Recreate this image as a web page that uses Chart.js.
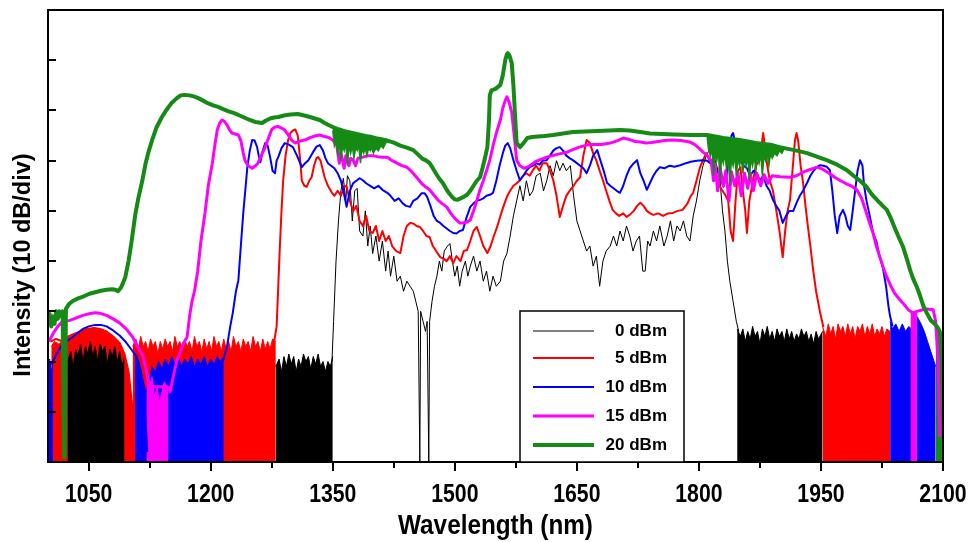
<!DOCTYPE html>
<html>
<head>
<meta charset="utf-8">
<script src="https://cdn.jsdelivr.net/npm/chart.js@4.4.0/dist/chart.umd.min.js"></script>
<style>
  html, body { margin: 0; padding: 0; background: #ffffff; }
  canvas { display: block; }
</style>
</head>
<body>
<canvas id="c" width="974" height="542"></canvas>
<script>
// ---------------- DATA (wavelength nm, relative intensity dB) ----------------
const seriesLabels = ['0 dBm', '5 dBm', '10 dBm', '15 dBm', '20 dBm'];
const xTickValues = [1050, 1200, 1350, 1500, 1650, 1800, 1950, 2100];
const xTickLabels = ['1050', '1200', '1350', '1500', '1650', '1800', '1950', '2100'];
const xMinorTicks = [1125, 1275, 1425, 1575, 1725, 1875, 2025];
const yTickValues = [-80, -70, -60, -50, -40, -30, -20, -10];
const xTitle = 'Wavelength (nm)';
const yTitle = 'Intensity (10 dB/div)';

// 0 dBm main trace
const trace0 = [[1349,-70],[1351,-62],[1354,-50],[1357,-42],[1360,-36],[1363,-33.5],[1366,-38],[1368,-33],[1371,-34],[1374,-42],[1377,-36],[1380,-35.5],[1383,-44],[1387,-45],[1390,-40],[1393,-47],[1396,-43],[1399,-48.5],[1403,-45],[1407,-50],[1411,-46],[1415,-52],[1418,-48],[1421,-53],[1425,-49],[1429,-54],[1433,-53],[1437,-56],[1441,-54],[1445,-55],[1449,-56],[1452,-58],[1455,-60],[1457,-90],[1458,-60],[1461,-62],[1464,-64],[1466,-62],[1468,-90],[1469,-62],[1472,-58],[1475,-55],[1478,-53],[1481,-50],[1484,-52],[1487,-48],[1491,-47],[1494,-46.5],[1497,-50],[1500,-53],[1503,-51],[1506,-55],[1509,-52],[1513,-50],[1516,-53],[1519,-51],[1523,-49],[1527,-52],[1531,-50],[1535,-54],[1539,-52],[1543,-56],[1547,-53],[1551,-55],[1556,-54],[1560,-50],[1564,-48.5],[1568,-45],[1572,-41],[1576,-38],[1580,-35],[1584,-38],[1588,-34],[1592,-37],[1596,-36],[1600,-33],[1605,-32.5],[1609,-36],[1613,-34],[1617,-31],[1621,-33],[1625,-30],[1629,-32],[1633,-30.5],[1637,-32],[1642,-31],[1646,-37],[1650,-42],[1654,-44],[1658,-46],[1662,-48],[1666,-47],[1670,-51],[1674,-49],[1678,-55],[1682,-50],[1686,-48],[1691,-47],[1695,-45],[1699,-47],[1703,-44],[1707,-46],[1711,-43],[1715,-45],[1719,-48],[1723,-46],[1727,-45],[1731,-52],[1734,-52],[1737,-46],[1740,-47],[1744,-44],[1748,-46],[1752,-43],[1757,-47],[1761,-45],[1765,-42],[1769,-46],[1773,-43],[1777,-44],[1781,-42],[1785,-45],[1789,-46],[1793,-41],[1797,-38],[1801,-34],[1805,-31],[1809,-29],[1814,-27.5],[1818,-29],[1822,-31],[1826,-34],[1829,-40],[1832,-44],[1835,-50],[1838,-54],[1842,-58],[1846,-62],[1849,-64]];

// 5 dBm main trace
const trace5 = [[1003,-66],[1010,-65.5],[1018,-66],[1025,-65],[1032,-64.5],[1040,-64],[1048,-63.5],[1056,-63.3],[1064,-63.5],[1072,-64],[1080,-65],[1088,-66.3],[1094,-68.5],[1099,-72],[1103,-78],[1106,-86],[1107,null],[1278,-66],[1281,-63],[1283,-55],[1285,-47],[1287,-40],[1289,-34],[1292,-29],[1295,-26],[1298,-24.5],[1301,-24],[1304,-23.8],[1307,-25],[1310,-30],[1312,-34],[1315,-35],[1318,-35.2],[1321,-34],[1324,-33.3],[1327,-31],[1330,-29.5],[1332,-29.3],[1335,-30],[1338,-32],[1340,-33.3],[1344,-35],[1349,-36.4],[1352,-37],[1356,-36],[1360,-37],[1364,-35],[1367,-35.2],[1371,-38],[1375,-40],[1379,-39],[1383,-42],[1387,-43],[1391,-41],[1395,-44],[1399,-44.4],[1403,-43],[1407,-46],[1411,-44],[1415,-46],[1419,-45],[1423,-47],[1428,-48],[1433,-48.4],[1437,-45],[1441,-43],[1445,-42.4],[1449,-42.5],[1453,-43],[1457,-43.2],[1461,-44],[1465,-45],[1469,-45.2],[1473,-47],[1477,-48],[1482,-49.2],[1486,-49.5],[1490,-50],[1494,-49],[1498,-50.4],[1502,-49],[1507,-50],[1511,-48],[1515,-47.8],[1519,-46],[1523,-44],[1527,-43.2],[1531,-45],[1535,-47],[1540,-48.4],[1544,-47],[1548,-45],[1552,-43.2],[1556,-41],[1560,-39],[1564,-37.2],[1568,-36],[1572,-35],[1576,-34.5],[1580,-33.9],[1584,-33],[1588,-32.5],[1592,-33],[1596,-31.9],[1600,-31],[1604,-32],[1608,-30.5],[1613,-30.5],[1617,-32],[1621,-33.9],[1625,-37],[1629,-41.2],[1633,-39],[1637,-37],[1642,-35.8],[1646,-35],[1650,-34],[1654,-33.3],[1658,-29],[1662,-25.9],[1666,-26.5],[1670,-28.5],[1674,-30],[1678,-32],[1682,-33.9],[1686,-36],[1690,-38],[1694,-39.8],[1698,-40.5],[1702,-41],[1707,-40.5],[1711,-41.2],[1715,-40.8],[1720,-40],[1724,-39],[1728,-38.4],[1732,-39],[1736,-40],[1740,-40.5],[1744,-40.8],[1750,-40.5],[1756,-41],[1762,-40.5],[1768,-40.4],[1774,-40],[1780,-39.8],[1786,-38.5],[1790,-37],[1793,-36.4],[1797,-34],[1801,-31.5],[1805,-29.9],[1809,-28.5],[1813,-30],[1817,-31.3],[1821,-33],[1825,-35],[1829,-36],[1833,-37],[1836,-38],[1839,-44],[1842,-46],[1845,-38],[1848,-32],[1851,-31.3],[1854,-36],[1857,-40],[1859,-44.4],[1862,-38],[1866,-34.4],[1870,-31],[1874,-30],[1877,-27],[1879,-24.5],[1881,-27],[1884,-31],[1887,-33.9],[1891,-36],[1895,-39.8],[1899,-44],[1903,-49.2],[1906,-44],[1909,-40],[1912,-37.8],[1915,-32],[1918,-26],[1920,-24.5],[1922,-26],[1925,-31],[1928,-34.4],[1931,-39],[1934,-43.2],[1937,-47],[1940,-51.2],[1944,-56],[1949,-60.3],[1953,-63.1]];

// 10 dBm main trace
const trace10 = [[1001,-71],[1006,-70],[1012,-68],[1018,-66.5],[1027,-65.5],[1035,-64.5],[1043,-63.5],[1050,-63],[1058,-62.7],[1065,-62.7],[1072,-63],[1080,-63.8],[1088,-64.8],[1095,-66],[1102,-67.5],[1109,-69],[1114,-72],[1117,-75.7],[1120,-82],[1122,-88],[1123,null],[1215,-70],[1220,-67],[1224,-63],[1227,-60.4],[1231,-56],[1234,-53.8],[1237,-47],[1240,-40.4],[1243,-35],[1245,-31.3],[1248,-28],[1251,-25.9],[1254,-26],[1257,-27.3],[1259,-29],[1261,-30.3],[1264,-28],[1267,-26.5],[1270,-27],[1273,-29.3],[1276,-32],[1279,-32.5],[1281,-30],[1283,-29.3],[1287,-27.5],[1291,-26.5],[1296,-26.8],[1301,-27.3],[1306,-29],[1312,-31.3],[1316,-30.5],[1320,-29.9],[1325,-28.5],[1330,-27.2],[1334,-26.9],[1338,-28],[1341,-29.5],[1344,-30.5],[1348,-31],[1352,-31.5],[1356,-32.5],[1360,-34],[1363,-36],[1367,-39.2],[1371,-36],[1375,-34.5],[1379,-34],[1383,-33.5],[1387,-33.9],[1391,-34.5],[1396,-35],[1401,-35.5],[1406,-35],[1411,-35.8],[1417,-36.4],[1421,-37],[1426,-38],[1431,-37.5],[1436,-38.5],[1440,-39],[1445,-39.2],[1449,-38],[1454,-37.5],[1459,-36.5],[1463,-36.5],[1466,-37.2],[1470,-39],[1474,-41],[1478,-42],[1482,-42.4],[1486,-43],[1490,-43.5],[1494,-44],[1498,-44.4],[1502,-44.5],[1506,-44],[1510,-43.8],[1514,-41.5],[1519,-39.2],[1523,-38.5],[1527,-38],[1531,-37.8],[1535,-37.5],[1539,-37],[1543,-36.8],[1547,-36.4],[1551,-34],[1555,-31],[1559,-28.5],[1562,-27],[1565,-26.5],[1568,-27.5],[1572,-29.9],[1576,-32],[1580,-33.9],[1584,-33],[1588,-32],[1592,-31.3],[1596,-31],[1600,-30.5],[1604,-30.8],[1608,-30],[1613,-29.9],[1617,-29],[1621,-28],[1625,-27.5],[1629,-27.3],[1633,-28],[1637,-29],[1641,-29.5],[1645,-29.9],[1650,-30.5],[1654,-31],[1658,-31.5],[1662,-32.5],[1666,-31],[1670,-29],[1675,-27.9],[1679,-30],[1683,-32],[1687,-34.4],[1691,-35],[1695,-35.5],[1699,-36],[1703,-36.4],[1707,-35],[1711,-33],[1715,-31.5],[1720,-30.5],[1724,-29.9],[1728,-32.5],[1732,-34],[1736,-35.8],[1740,-34.4],[1744,-33],[1748,-32],[1752,-31.3],[1758,-31.5],[1764,-31],[1770,-31.2],[1777,-30.9],[1784,-30.5],[1790,-30.2],[1797,-30],[1805,-29.9],[1810,-30],[1814,-30.5],[1817,-31.3],[1822,-32],[1826,-33],[1830,-35.2],[1834,-33],[1837,-29],[1840,-25],[1842,-24.5],[1844,-26],[1847,-28],[1851,-30],[1855,-31],[1859,-31.5],[1863,-33],[1867,-32],[1871,-32.5],[1875,-34],[1879,-33],[1883,-35],[1887,-36],[1891,-37.8],[1895,-39],[1899,-40],[1903,-42.4],[1907,-41],[1911,-40],[1916,-40],[1920,-38.4],[1924,-37],[1928,-36],[1933,-34.4],[1937,-33],[1941,-32],[1945,-31.3],[1949,-30.9],[1953,-31],[1957,-31.2],[1961,-31.9],[1964,-36],[1967,-41],[1970,-44.4],[1973,-41],[1977,-39.8],[1980,-41],[1983,-43],[1986,-43.8],[1989,-40],[1992,-36],[1995,-32],[1998,-29.9],[2001,-31],[2003,-35],[2006,-38],[2010,-41],[2014,-44.4],[2018,-46],[2022,-49],[2026,-51.2],[2030,-55],[2033,-59],[2035,-61],[2038,-63]];

// 15 dBm main trace
const trace15 = [[1001,-66],[1006,-64.5],[1012,-63],[1018,-62],[1027,-61.8],[1035,-61.3],[1043,-60.8],[1050,-60.5],[1058,-60.3],[1064,-60.4],[1072,-60.8],[1080,-61.5],[1088,-62.3],[1096,-63.5],[1104,-65.1],[1110,-67],[1117,-69],[1121,-72],[1125,-75],[1147,-75],[1150,-76],[1154,-73],[1158,-70],[1162,-68.3],[1166,-66.5],[1171,-65.1],[1174,-61],[1177,-58],[1180,-56],[1184,-52],[1188,-46],[1193,-40.4],[1197,-35],[1202,-30.5],[1205,-27],[1208,-23.9],[1211,-22.5],[1214,-21.9],[1217,-22.2],[1220,-22.9],[1223,-23.8],[1226,-24.5],[1230,-24.7],[1234,-24.9],[1237,-26],[1240,-28.5],[1242,-29.9],[1246,-31],[1251,-31.5],[1255,-31],[1258,-30.5],[1262,-29],[1267,-27.3],[1271,-25.5],[1275,-23.8],[1279,-23.3],[1283,-23.2],[1287,-23.5],[1291,-23.9],[1295,-24.8],[1300,-26],[1304,-26.5],[1308,-26.2],[1312,-26],[1316,-25.9],[1322,-25.4],[1328,-25.1],[1334,-24.9],[1340,-25.2],[1345,-25.4],[1350,-25.9],[1355,-27],[1358,-30.5],[1360,-28.5],[1364,-31.5],[1366,-29],[1370,-31],[1372,-29.5],[1375,-29.9],[1378,-31],[1381,-29.5],[1387,-29.3],[1393,-29],[1399,-29],[1405,-29.2],[1411,-29.3],[1417,-29.3],[1423,-30],[1429,-30.5],[1435,-31],[1441,-31.3],[1447,-32.2],[1453,-33.3],[1459,-34.5],[1464,-35.2],[1469,-35.8],[1474,-36.8],[1479,-37.8],[1484,-38.5],[1490,-39.2],[1495,-40.5],[1500,-41.5],[1506,-42.4],[1510,-42.4],[1515,-42.2],[1519,-41.8],[1523,-40],[1527,-38],[1531,-35.8],[1535,-34],[1539,-32],[1543,-29.9],[1547,-27],[1551,-24.5],[1556,-21.9],[1559,-19.5],[1562,-18],[1564,-17.3],[1567,-18.5],[1570,-20.5],[1573,-25],[1576,-29.9],[1580,-31],[1585,-31.5],[1589,-31.3],[1594,-30.8],[1599,-30.2],[1605,-29.8],[1613,-29.3],[1620,-29],[1627,-28.7],[1633,-28.5],[1638,-28.3],[1645,-27.8],[1653,-27.3],[1662,-26.9],[1670,-26.8],[1680,-26.8],[1691,-26.5],[1700,-26],[1707,-25.5],[1715,-25.8],[1722,-26.2],[1728,-26.3],[1735,-26.5],[1742,-26.4],[1750,-26.2],[1758,-26],[1768,-25.9],[1778,-26],[1789,-26.3],[1795,-26.8],[1800,-27.5],[1805,-28.3],[1810,-28.9],[1815,-30],[1818,-34],[1820,-30.8],[1823,-36],[1826,-31.3],[1830,-35],[1833,-32],[1837,-38],[1840,-32.2],[1844,-35],[1848,-32.4],[1852,-37],[1856,-32.5],[1860,-35.5],[1863,-32.5],[1867,-36],[1871,-32.5],[1876,-35],[1880,-32.8],[1885,-34.5],[1890,-33],[1900,-33.2],[1912,-33.3],[1920,-33],[1928,-32.3],[1936,-31.8],[1945,-31.3],[1952,-31.7],[1960,-32.5],[1967,-33.3],[1973,-33.9],[1980,-34.5],[1987,-35],[1994,-35.8],[2000,-37.5],[2005,-40],[2010,-42.5],[2014,-44.4],[2018,-47],[2023,-49.5],[2027,-51.5],[2031,-53.2],[2036,-55],[2041,-56.5],[2047,-57.7],[2053,-58.8],[2058,-59.8],[2063,-60.3],[2068,-60],[2073,-59.8],[2078,-59.5],[2083,-59.6],[2088,-59.7],[2091,-62],[2094,-70],[2096,-85]];

// 20 dBm main trace
const trace20 = [[1000,-62],[1002,-60.5],[1004,-63],[1006,-61],[1008,-62.5],[1010,-60],[1012,-61.5],[1014,-60],[1016,-61],[1018,-60],[1019.5,-89],[1020.5,-89],[1022,-59.5],[1026,-58.5],[1030,-58],[1037,-57.4],[1044,-57],[1051,-56.5],[1058,-56.2],[1065,-55.9],[1072,-55.7],[1079,-55.6],[1083,-55.7],[1086,-56],[1090,-55.2],[1095,-53.2],[1099,-50],[1103,-45.8],[1107,-41],[1111,-37.5],[1116,-33.9],[1120,-30.5],[1124,-28],[1128,-25.9],[1133,-23.5],[1140,-21.3],[1146,-19.8],[1152,-18.5],[1158,-17.6],[1163,-17],[1168,-16.9],[1174,-17],[1179,-17.2],[1184,-17.5],[1190,-18],[1197,-18.6],[1203,-19],[1209,-19.3],[1216,-19.8],[1222,-20.2],[1228,-20.5],[1234,-20.9],[1241,-21.4],[1248,-21.9],[1255,-22.3],[1263,-22.5],[1268,-22],[1273,-21.6],[1278,-21.4],[1283,-21.3],[1290,-21],[1298,-20.8],[1307,-20.7],[1315,-21],[1322,-21.3],[1328,-21.6],[1334,-21.9],[1340,-22.5],[1346,-23],[1350,-23.3],[1358,-23.8],[1366,-24.2],[1374,-24.5],[1382,-24.8],[1390,-25.1],[1398,-25.3],[1405,-25.6],[1411,-25.8],[1417,-26],[1425,-26.4],[1433,-27],[1441,-27.4],[1449,-27.9],[1455,-28.8],[1460,-29.6],[1465,-30],[1469,-30.5],[1473,-31.5],[1477,-32.6],[1481,-33.6],[1485,-34.4],[1489,-35.5],[1493,-36.5],[1497,-37.3],[1500,-37.7],[1503,-37.8],[1507,-37.5],[1511,-37.2],[1515,-36.8],[1519,-36],[1523,-35],[1527,-34],[1531,-33.3],[1534,-31.5],[1537,-29.5],[1540,-27.3],[1542,-22],[1543,-17],[1545,-16],[1550,-15.7],[1556,-14.9],[1559,-13],[1562,-10],[1564,-8.8],[1565,-8.6],[1567,-9],[1570,-10.6],[1572,-15],[1574,-21],[1576,-26.5],[1580,-27.3],[1584,-26.6],[1589,-25.5],[1595,-25.3],[1602,-25.2],[1610,-25.1],[1621,-24.9],[1633,-24.6],[1645,-24.3],[1660,-24.2],[1675,-24.1],[1690,-24],[1703,-23.9],[1715,-24],[1728,-24.3],[1740,-24.6],[1755,-24.7],[1770,-24.8],[1790,-24.9],[1810,-24.9],[1820,-25.2],[1830,-25.5],[1840,-25.7],[1850,-25.9],[1860,-26.2],[1870,-26.5],[1880,-26.7],[1890,-26.9],[1899,-27.3],[1905,-27.5],[1920,-28],[1933,-28.5],[1945,-29.2],[1957,-29.9],[1970,-30.8],[1982,-31.9],[1990,-33],[1998,-34],[2006,-35.2],[2013,-36.8],[2020,-38],[2026,-39],[2031,-39.8],[2036,-41.5],[2041,-43.5],[2046,-45.4],[2051,-47.2],[2056,-49.8],[2060,-52],[2064,-53.8],[2068,-55.2],[2072,-57],[2076,-59],[2080,-60.3],[2085,-61.8],[2090,-62.5],[2093,-63.1],[2096,-64],[2100,-66]];

// Lower edges of the dense 20 dBm noise bands (band filled up to the 20 dBm trace)
const noise20a = [[1350,-24],[1352,-27],[1354,-26],[1356,-28.5],[1358,-26.5],[1360,-30],[1362,-27],[1364,-28],[1366,-26.5],[1368,-31],[1370,-27],[1372,-28.5],[1374,-27],[1376,-29.5],[1378,-27.5],[1380,-28],[1382,-27],[1384,-30.5],[1386,-27.5],[1388,-28.5],[1390,-27.5],[1392,-29],[1394,-27.5],[1396,-28],[1398,-27.5],[1400,-28.5],[1403,-27.5],[1406,-28],[1409,-27],[1412,-27.5],[1415,-26.5],[1417,-26]];
const noise20b = [[1810,-25],[1812,-28],[1814,-29],[1816,-27.5],[1818,-33],[1820,-28.5],[1822,-30],[1824,-28],[1826,-34],[1828,-29],[1830,-30.5],[1832,-28.5],[1834,-32],[1836,-29],[1838,-35],[1840,-29.5],[1842,-31],[1844,-29],[1846,-33],[1848,-29.5],[1850,-31],[1852,-29],[1854,-32.5],[1856,-29.5],[1858,-31],[1860,-29],[1862,-34],[1864,-29.5],[1866,-31],[1868,-29],[1870,-32],[1872,-29],[1874,-30.5],[1876,-28.5],[1878,-33],[1880,-29],[1882,-30],[1884,-28.5],[1886,-31],[1888,-28.5],[1890,-29.5],[1893,-28.5],[1896,-29],[1899,-28],[1902,-28.5],[1905,-27.5]];

// Noise-floor envelopes (top of the dense noise bands, filled down to the floor)
const floor0a = [[1024,-70],[1028,-68],[1031,-71],[1034,-67.5],[1037,-69],[1040,-66.5],[1043,-70],[1046,-67],[1049,-68.5],[1052,-66],[1055,-69],[1058,-67],[1061,-70],[1064,-66.5],[1067,-68],[1070,-67],[1073,-70.5],[1076,-67.5],[1079,-69],[1082,-67],[1085,-70],[1088,-68],[1091,-71],[1094,-69]];
const floor0b = [[1280,-71],[1284,-69.5],[1287,-72],[1290,-69],[1293,-71],[1296,-68.5],[1299,-70.5],[1302,-69],[1305,-72],[1308,-69.5],[1311,-71],[1314,-68.5],[1317,-70],[1320,-69],[1323,-71.5],[1326,-69],[1329,-70.5],[1332,-68.5],[1335,-71],[1338,-70],[1341,-72],[1344,-70],[1347,-71],[1350,-69]];
const floor0c = [[1847,-63.5],[1851,-65],[1854,-63.5],[1857,-66],[1860,-64],[1863,-65.5],[1866,-63],[1869,-65],[1872,-64],[1875,-66.5],[1878,-63.5],[1881,-65],[1884,-63],[1887,-65.5],[1890,-64],[1893,-66],[1896,-63.5],[1899,-65],[1902,-64],[1905,-66],[1908,-63.5],[1911,-65.5],[1914,-64],[1917,-66],[1920,-64.5],[1923,-65.5],[1926,-63.5],[1929,-65],[1932,-64],[1935,-66],[1938,-64.5],[1941,-66.5],[1944,-64],[1947,-65.5],[1952,-64]];
const floor5a = [[1004,-67],[1008,-66],[1013,-66.5],[1018,-66],[1022,-65.5],[1028,-65],[1035,-64.5],[1042,-64],[1050,-63.5],[1058,-63.3],[1064,-63.5],[1072,-64],[1080,-65],[1088,-66.3],[1094,-68.5],[1099,-72],[1103,-78],[1106,-84]];
const floor5b = [[1104,-67],[1108,-65.5],[1111,-67.5],[1114,-65],[1117,-67],[1120,-66],[1123,-68],[1126,-65.5],[1129,-67],[1132,-66],[1135,-68.5],[1138,-66],[1141,-67.5],[1144,-65.5],[1147,-67],[1150,-66],[1153,-68],[1156,-65],[1159,-67],[1162,-66],[1165,-68],[1168,-65.5],[1171,-67],[1174,-66],[1177,-68],[1180,-65],[1183,-67],[1186,-66],[1189,-68],[1192,-65.5],[1195,-67.5],[1198,-66],[1201,-68],[1204,-65],[1207,-67],[1210,-66],[1213,-68],[1216,-65.5],[1219,-67.5],[1222,-66],[1225,-68],[1228,-65],[1231,-67],[1234,-66],[1237,-68],[1240,-65.5],[1243,-67],[1246,-66],[1249,-68],[1252,-65],[1255,-67],[1258,-66],[1261,-68],[1264,-65.5],[1267,-67.5],[1270,-66],[1273,-67.5],[1276,-65.5],[1280,-66]];
const floor5c = [[1952,-63],[1956,-65],[1959,-62.5],[1962,-64.5],[1965,-63],[1968,-65.5],[1971,-62.5],[1974,-64],[1977,-63],[1980,-65],[1983,-62.5],[1986,-64.5],[1989,-63],[1992,-65.5],[1995,-63],[1998,-64],[2001,-62.5],[2004,-65],[2007,-63],[2010,-64.5],[2013,-62.5],[2016,-65],[2019,-63.5],[2022,-64.5],[2025,-63],[2028,-65],[2031,-63.5],[2035,-64]];
const floor10a = [[1000,-71],[1002,-69.5],[1004,-72],[1006,-70]];
const floor10b = [[1107,-68.5],[1112,-70],[1116,-73],[1120,-76],[1124,-74],[1128,-71],[1132,-72],[1136,-70],[1140,-71.5],[1144,-69.5],[1148,-71],[1152,-69],[1156,-70.5],[1160,-69],[1164,-71],[1168,-69.5],[1172,-70.5],[1176,-69],[1180,-71],[1184,-69.5],[1188,-70.5],[1192,-69],[1196,-71],[1200,-69.5],[1204,-70.5],[1208,-69],[1212,-70],[1216,-69]];
const floor10c = [[2035,-62],[2038,-63.5],[2042,-62.5],[2046,-64],[2050,-62.5],[2054,-64],[2058,-63],[2061,-63.5]];
const floor10d = [[2068,-61],[2073,-62.5],[2077,-64],[2081,-66],[2085,-68],[2091,-71]];
const floor15a = [[1121,-72],[1125,-75],[1128,-73],[1131,-77],[1134,-75],[1137,-78],[1140,-76],[1143,-74],[1146,-75],[1148,-75.5]];
const floor15b = [[2060,-60],[2064,-60.5],[2068,-60]];
const floor20a = [[2091,-62.5],[2094,-63.5],[2097,-64.5],[2100,-66]];

// ---------------- STYLE ----------------
const C0 = '#000000', C5 = '#ff0000', C10 = '#0000ff', C15 = '#ff00ff', C20 = '#158a15';
const legendColors = [C0, C5, C10, C15, C20];
const legendWidths = [1, 2, 2, 3, 4];

const toXY = arr => arr.map(p => ({x: p[0], y: p[1]}));
function lineDS(label, arr, color, width, order) {
  return {label, data: toXY(arr), borderColor: color, backgroundColor: color, borderWidth: width,
    pointRadius: 0, fill: false, tension: 0, order, borderJoinStyle: 'round'};
}
function floorDS(arr, color, order) {
  return {label: '', data: toXY(arr), borderColor: color, backgroundColor: color, borderWidth: 1,
    pointRadius: 0, fill: 'start', tension: 0, order};
}
function bandDS(arr, color, order, targetIndex) {
  return {label: '', data: toXY(arr), borderColor: color, backgroundColor: color, borderWidth: 1.5,
    pointRadius: 0, fill: targetIndex, tension: 0, order};
}

const datasets = [
  lineDS(seriesLabels[4], trace20, C20, 4, 1),          // index 0
  lineDS(seriesLabels[3], trace15, C15, 3, 2),
  lineDS(seriesLabels[2], trace10, C10, 2, 3),
  lineDS(seriesLabels[1], trace5, C5, 2, 4),
  lineDS(seriesLabels[0], trace0, C0, 1, 5),
  bandDS(noise20a, C20, 1, 0), bandDS(noise20b, C20, 1, 0),
  floorDS(floor15a, C15, 6), floorDS(floor15b, C15, 6),
  floorDS(floor10a, C10, 7), floorDS(floor10b, C10, 7), floorDS(floor10c, C10, 7), floorDS(floor10d, C10, 7),
  floorDS(floor0a, C0, 8), floorDS(floor0b, C0, 8), floorDS(floor0c, C0, 8),
  floorDS(floor20a, C20, 8),
  floorDS(floor5a, C5, 9), floorDS(floor5b, C5, 9), floorDS(floor5c, C5, 9)
];

function condensedText(ctx, text, x, y, sx, align) {
  ctx.save();
  ctx.translate(x, y);
  ctx.scale(sx, 1);
  ctx.textAlign = align;
  ctx.fillText(text, 0, 0);
  ctx.restore();
}

const framePlugin = {
  id: 'frame',
  afterDatasetsDraw(chart) {
    const {ctx, chartArea: a, scales: {x, y}} = chart;
    ctx.save();
    ctx.strokeStyle = '#000';
    ctx.lineWidth = 2;
    ctx.strokeRect(a.left, a.top, a.right - a.left, a.bottom - a.top);
    ctx.beginPath();
    xTickValues.forEach(v => { const px = Math.round(x.getPixelForValue(v)); ctx.moveTo(px, a.bottom); ctx.lineTo(px, a.bottom + 9); });
    xMinorTicks.forEach(v => { const px = Math.round(x.getPixelForValue(v)); ctx.moveTo(px, a.bottom); ctx.lineTo(px, a.bottom + 6); });
    yTickValues.forEach(v => { const py = Math.round(y.getPixelForValue(v)); ctx.moveTo(a.left, py); ctx.lineTo(a.left + 8, py); });
    ctx.stroke();

    // tick labels
    ctx.fillStyle = '#000';
    ctx.textBaseline = 'middle';
    ctx.font = 'bold 25px "Liberation Sans", Arial, sans-serif';
    xTickValues.forEach((v, i) => {
      const px = x.getPixelForValue(v);
      condensedText(ctx, xTickLabels[i], px, a.bottom + 33, 0.85, 'center');
    });
    // axis titles
    ctx.font = 'bold 27px "Liberation Sans", Arial, sans-serif';
    condensedText(ctx, xTitle, (a.left + a.right) / 2, 527, 0.9, 'center');
    ctx.save();
    ctx.translate(24, 265);
    ctx.rotate(-Math.PI / 2);
    ctx.font = 'bold 23.5px "Liberation Sans", Arial, sans-serif';
    ctx.textAlign = 'center';
    ctx.fillText(yTitle, 0, 0);
    ctx.restore();

    // legend box
    const lx = 520, ly = 311, lw = 164, lh = a.bottom - 311;
    ctx.fillStyle = '#fff';
    ctx.fillRect(lx, ly, lw, lh);
    ctx.lineWidth = 1.5;
    ctx.strokeStyle = '#000';
    ctx.strokeRect(lx, ly, lw, lh);
    const rows = [331, 358, 387, 416, 445];
    ctx.font = 'bold 17px "Liberation Sans", Arial, sans-serif';
    ctx.textAlign = 'right';
    ctx.textBaseline = 'middle';
    seriesLabels.forEach((lab, i) => {
      ctx.strokeStyle = legendColors[i];
      ctx.lineWidth = legendWidths[i];
      ctx.beginPath();
      ctx.moveTo(533, rows[i]);
      ctx.lineTo(594, rows[i]);
      ctx.stroke();
      ctx.fillStyle = '#000';
      ctx.fillText(lab, 667, rows[i]);
    });
    ctx.restore();
  }
};

new Chart(document.getElementById('c'), {
  type: 'line',
  data: {datasets},
  options: {
    responsive: false,
    animation: false,
    devicePixelRatio: 1,
    layout: {padding: {top: 10, right: 31, left: 0, bottom: 0}},
    plugins: {legend: {display: false}, tooltip: {enabled: false}},
    scales: {
      x: {type: 'linear', min: 1000, max: 2100, grid: {display: false}, border: {display: false},
          ticks: {display: false}, afterFit: s => { s.height = 80; }},
      y: {type: 'linear', min: -90, max: 0, grid: {display: false}, border: {display: false},
          ticks: {display: false}, afterFit: s => { s.width = 48; }}
    }
  },
  plugins: [framePlugin]
});
</script>
</body>
</html>
